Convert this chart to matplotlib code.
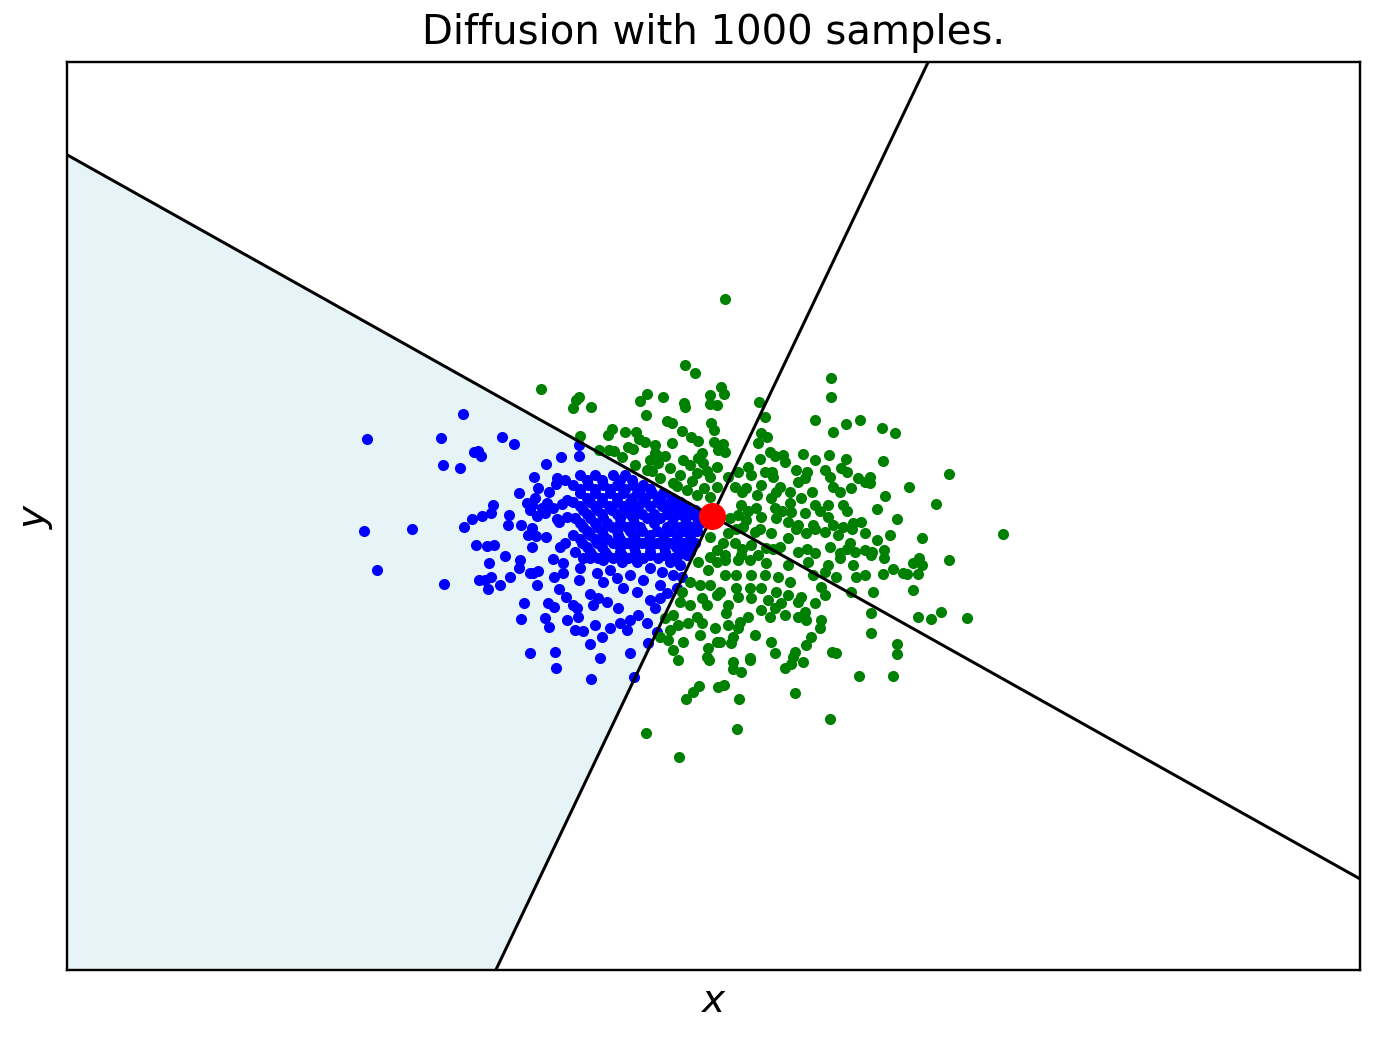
import matplotlib
matplotlib.use("Agg")
import matplotlib.pyplot as plt

# samples (arbitrary units, red start point at 0,0)
blue_x = [-249, -345, -271, -210, -198, -238, -234, -231, -151, -269, -252, -166, -178, -155, -147,
          -156, -174, -163, -193, -177, -185, -145, -219, -180, -165, -182, -170, -159, -150, -221,
          -230, -240, -203, -175, -167, -155, -145, -348, -300, -248, -204, -191, -180, -153,
          -236, -225, -218, -184, -176, -166, -180, -207, -192, -223, -193, -159, -152, -147, -149,
          -335, -268, -233, -227, -221, -224, -212, -202, -182, -174, -179, -175, -158, -149, -153,
          -146, -188, -164, -158, -191, -167, -163, -145, -182, -157, -156,
          -133, -133,
          -132, -117, -99, -87,
          -125, -110, -92, -80,
          -139, -124, -109, -95, -79, -69,
          -132, -117, -102, -87, -72, -62,
          -132, -117, -102, -89, -75, -60, -49,
          -125, -110, -95, -80, -67, -52, -40,
          -139, -122, -110, -95, -82, -70, -55, -42, -32,
          -132, -117, -103, -89, -77, -62, -50, -38, -27,
          -129, -115, -100, -85, -74, -45, -35, -25, -17,
          -125, -110, -95, -82, -70, -58, -45, -32, -22, -12,
          -137, -122, -109, -92, -79, -65, -52, -39, -27, -15,
          -132, -117, -105, -92, -78, -58, -40, -26, -12,
          -129, -115, -100, -85, -72, -45, -32, -19,
          -125, -110, -95, -82, -70, -55, -42, -28, -15,
          -139, -122, -109, -94, -79, -62, -49, -35, -22,
          -132, -117, -105, -92, -77, -63, -48, -35, -22,
          -130, -115, -99, -85, -70, -55, -42, -29, -17,
          -125, -110, -92, -78, -62, -48, -36, -24,
          -137, -122, -107, -92, -77, -62, -47, -32, -22,
          -120, -105, -90, -76, -62, -48, -34, -25,
          -129, -114, -99, -84, -69, -54, -39,
          -133, -132, -122, -114, -105, -139, -135, -119, -134, -94, -74, -82, -92, -102, -117,
          -137, -129, -110, -85, -65, -122, -112, -82, -64, -55, -89, -75, -62, -52, -57,
          -45, -69, -82, -102, -115, -109, -95, -90, -75, -62, -50, -39, -32, -30, -42,
          -122, -109, -52, -35,
          -121, -78]
blue_y = [102, 77, 78, 79, 72, 64, 65, 60, 59, 51, 48, 52, 39, 38, 36,
          32, 28, 24, 23, 18, 13, 16, 11, 11, 13, 6, 8, 8, 12, 3,
          0, -3, 1, 0, 3, -3, -1, -15, -13, -11, -9, -9, -12, -6,
          -29, -30, -29, -19, -20, -21, -31, -40, -44, -47, -52, -43, -31, -27, -47,
          -54, -68, -64, -64, -61, -73, -69, -61, -57, -55, -57, -69, -61, -57, -73,
          -81, -87, -87, -91, -103, -102, -111, -104, -137, -136, -152,
          71, 60,
          41, 41, 41, 41,
          36, 36, 36, 36,
          31, 31, 31, 31, 31, 31,
          27, 27, 27, 27, 27, 27,
          23, 23, 23, 23, 23, 23, 23,
          18, 18, 18, 18, 18, 18, 18,
          14, 14, 14, 14, 14, 14, 14, 14, 14,
          10, 10, 10, 10, 10, 10, 10, 10, 10,
          6, 6, 6, 6, 6, 6, 6, 6, 6,
          2, 2, 2, 2, 2, 2, 2, 2, 2, 2,
          -2, -2, -2, -2, -2, -2, -2, -2, -2, -2,
          -7, -7, -7, -7, -7, -7, -7, -7, -7,
          -11, -11, -11, -11, -11, -11, -11, -11,
          -15, -15, -15, -15, -15, -15, -15, -15, -15,
          -19, -19, -19, -19, -19, -19, -19, -19, -19,
          -23, -23, -23, -23, -23, -23, -23, -23, -23,
          -27, -27, -27, -27, -27, -27, -27, -27, -27,
          -31, -31, -31, -31, -31, -31, -31, -31,
          -36, -36, -36, -36, -36, -36, -36, -36, -36,
          -39, -39, -39, -39, -39, -39, -39, -39,
          -42, -42, -42, -42, -42, -42, -42,
          -64, -52, -78, -82, -86, -89, -92, -89, -101, -92, -99, -104, -107, -112, -109,
          -114, -115, -121, -114, -107, -128, -142, -137, -127, -116, -72, -76, -84, -82, -92,
          -77, -64, -59, -54, -57, -66, -62, -46, -46, -52, -56, -59, -49, -61, -46,
          -42, -44, -69, -72,
          -163, -161]

green_x = [-171, 13,
           -77, -65, -54, -42, -32, -52, -39, -25, -15, -2, 5, -2, 5, -15, -22, -9, -62, -2, 5, -2,
           -60, -47, -35, -20, -5, -8,
           -27, -17, 9, -65, -49, -72, -133, -136, -139, -121, -2, -2, 5, -28, -27, -66, -45, -40,
           -1, 2, -100, -104, -87, -76, -30, -21, -132, -73, -67, -57, -40, -14, 2, -84, -79, -113,
           -103, -98, -90, -57, -54, -10, -14, -29, 6,
           -14, -4, 5, -22, -12, -2, 5, -30, -32, -22, -10, -5, -15, -10, -24, -34, -39, -47, -42,
           -52, -44, -29, -12, 3, 5, -4, -5, -39, -34,
           -3, 21, 38, 21, 29, -13, -19, 6, 12, -26, 27, -66, 25, -33,
           119, 119, 12, 47, 53, 103, 134, 148, 170, 183, 121, 49, 55, 46, 11, 13, 58, 71, 91,
           117, 63, 48, 103, 134, 171,
           36, 73, 129, 113, 84, 53, 61, 39, 93, 118, 146, 153, 139, 121, 86, 68, 49, 34, 23, 16,
           45, 59, 78, 78, 89, 103, 116, 131, 93, 79, 63, 44, 29, 26, 18, 34, 49, 64, 76, 86, 101,
           116, 121, 131, 141, 149, 153, 138, 126, 113, 94, 76, 59, 43, 31, 16, 11, 23, 39, 54, 68,
           86, 103, 118, 128, 143, 153, 13, 29, 46,
           26, 60, 95, 135, 30, 64, 100, 128, 36, 70, 108, 135, 24, 48, 84, 103, 140, 30, 61, 95, 135,
           13, 26, 38, 54, 76, 96, 116, 128, 141, 153, 144, 159, 124, 113, 101, 109, 113, 139, 161,
           159, 159, 78, 66, 53, 39, 24, 13, 8, 24, 38, 49, 64, 76, 89, 86, 103, 16, 26, 39, 56, 69,
           63, 73, 49, 58, 14, 36, 28, 86, 93, 94, 109, 108, 16, 26, 43, 21, 19, 8, 59, 99, 94, 63,
           83, 81, 120, 124, 38, 91, 79, 73, 147, 83, 118,
           158, 158, 237, 197, 173, 224, 165, 185, 178, 165, 210, 291, 160, 172, 172, 207, 201, 210,
           237, 181, 191, 195, 206, 171, 201, 206, 219, 229, 255, 185, 185, 181]
green_y = [127, 217,
           51, 46, 53, 48, 41, 38, 33, 26, 21, 19, 29, 39, 49, 43, 51, 53, 56, -21, -34, -41,
           45, 60, 30, 35, 45, 28,
           151, 143, 129, 122, 119, 115, 119, 116, 108, 109, 121, 112, 111, 113, 109, 101, 95, 93,
           93, 86, 87, 81, 84, 84, 85, 79, 80, 77, 74, 71, 73, 75, 74, 69, 67, 66,
           66, 65, 59, 63, 60, 63, 58, 56, 66,
           -46, -54, -46, -66, -69, -69, -79, -76, -86, -89, -82, -89, -101, -107, -107, -109, -99,
           -102, -114, -121, -124, -126, -119, -112, -126, -132, -141, -134, -144,
           -144, -146, -144, -153, -156, -170, -176, -171, -169, -183, -183, -217, -213, -241,
           138, 119, 122, 114, 99, 96, 92, 96, 88, 83, 84, 83, 79, 73, 72, 64, 64, 61, 62,
           61, 60, 57, 56, 57, 55,
           49, 54, 48, 46, 46, 44, 39, 41, 38, 39, 38, 34, 28, 29, 34, 29, 31, 28, 29, 39,
           21, 18, 24, 13, 18, 11, 11, 11, 3, 4, 8, 8, 11, 1, -2, -4, -1, -2, -6, -9, -9,
           -1, -9, -11, -7, -6, -17, -27, -19, -16, -17, -22, -17, -16, -11, -17, -27, -27, -29, -32,
           -31, -36, -37, -31, -37, -36, -34, -39, -39, -39,
           44, 44, 44, 44, 24, 24, 24, 24, 5, 5, 5, 5, -13, -13, -13, -13, -13, -33, -33, -33, -33,
           -44, -44, -44, -47, -49, -46, -49, -42, -49, -59, -61, -39, -61, -56, -59, -71, -79, -76,
           -76, -97, -117, -66, -61, -59, -59, -59, -59, -76, -72, -72, -72, -76, -79, -81, -86,
           -87, -89, -81, -82, -84, -87, -92, -99, -94, -101, -97, -101, -106, -101, -96, -104, -104,
           -112, -109, -112, -119, -121, -127, -126, -126, -121, -129, -137, -136, -141, -136, -137,
           -142, -146, -148, -152, -160, -177, -203,
           39, 33, 42, 29, 20, 12, 7, -3, -19, -24, -22, -18, -36, -34, -42, -42, -47, -49,
           -44, -53, -57, -58, -58, -58, -74, -101, -103, -96, -102, -128, -138, -160]

# the two separating lines through the start point
slope_a = -0.56
slope_b = 2.1
start = (0, 0)
x_lim = (-645, 648)
y_lim = (-454, 454)

fig = plt.figure(figsize=(1379 / 216, 1039 / 216), dpi=216)
ax = fig.add_axes([67 / 1379, 69 / 1039, 1293 / 1379, 908 / 1039])

# shaded wedge: below line a and left of line b
x0, y0 = x_lim[0], y_lim[0]
wedge_x = [start[0], x0, x0, y0 / slope_b]
wedge_y = [start[1], slope_a * x0, y0, y0]
ax.fill(wedge_x, wedge_y, color="lightblue", alpha=0.3, lw=0)

ax.plot(blue_x, blue_y, "o", color="b", ms=3.7, mew=0)
ax.plot(green_x, green_y, "o", color="g", ms=3.7, mew=0)

ax.axline(start, slope=slope_a, color="k", lw=1.0)
ax.axline(start, slope=slope_b, color="k", lw=1.0)

ax.plot(start[0], start[1], "o", color="r", ms=9, mew=0)

ax.set_xlim(x_lim)
ax.set_ylim(y_lim)
ax.set_xticks([])
ax.set_yticks([])
ax.set_xlabel("$x$", fontsize=13)
ax.set_ylabel("$y$", fontsize=13)
ax.set_title("Diffusion with 1000 samples.", fontsize=13.4)

fig.savefig("out.png", dpi=216)
